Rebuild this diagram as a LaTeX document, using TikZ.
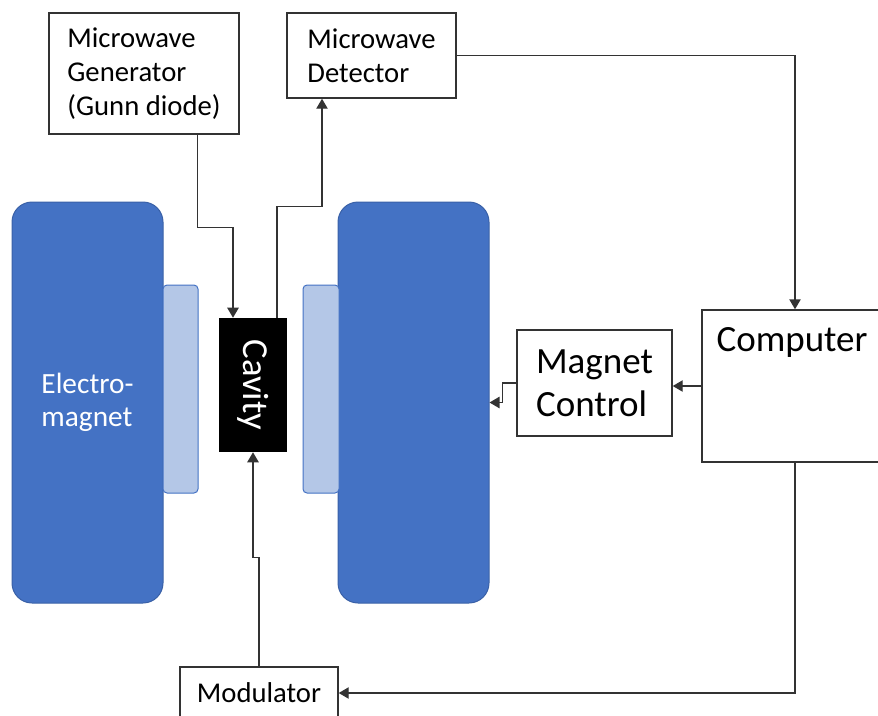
\documentclass[tikz,border=0pt]{standalone}
\usepackage{fontspec}
\setmainfont{Carlito}
\usepackage{graphicx}
\usetikzlibrary{arrows.meta}
\definecolor{magblue}{HTML}{4472C4}
\definecolor{poleblue}{HTML}{B4C7E7}
\tikzset{
  box/.style={draw=black!80, line width=1.1pt, fill=white, align=left,
    font=\fontsize{21.5pt}{25.5pt}\selectfont},
  bigbox/.style={box, font=\fontsize{27.75pt}{32.5pt}\selectfont},
  magnet/.style={fill=magblue, draw=magblue!85!black, line width=.75pt,
    rounded corners=15pt, minimum width=113.25pt, minimum height=300.75pt},
  pole/.style={fill=poleblue, draw=magblue, line width=.75pt,
    rounded corners=3pt, minimum width=26.25pt, minimum height=156pt},
  wire/.style={draw=black!80, line width=1.1pt,
    -{Triangle[width=8.5pt,length=7.5pt]}}
}
\begin{document}
\begin{tikzpicture}[x=0.75pt, y=-0.75pt]% ------ ESR set-up -----------------
    \clip (0,0) rectangle (878,715);
    % magnet, pole pieces and cavity
    \node (magL) [magnet, text=white, align=left,
      font=\fontsize{22pt}{25pt}\selectfont] at (87.5,402.5) {Electro-\\magnet};
    \node (magR) [magnet] at (413.5,402.5) {};
    \node (poleL) [pole] at (180.5,389) {};
    \node (poleR) [pole, minimum width=27pt] at (321,389) {};
    \node (cav) [fill=black, text=white, minimum width=51pt, minimum height=100.5pt,
      font=\fontsize{27.5pt}{30pt}\selectfont] at (253,385) {\rotatebox{-90}{Cavity}};
    % blocks
    \node (gen) [box, minimum width=142.5pt, minimum height=90.75pt] at (144,73.5)
      {Microwave\\Generator\\(Gunn diode)};
    \node (det) [box, minimum width=126.75pt, minimum height=63.75pt] at (371.5,55.5)
      {Microwave\\Detector};
    \node (comp) [bigbox, minimum width=139.5pt, minimum height=114pt,
      label={[anchor=north west, inner sep=0pt, xshift=11.25pt, yshift=-13.5pt,
        font=\fontsize{27.75pt}{32.5pt}\selectfont]north west:Computer}]
      at (795,386) {};
    \node (mctl) [bigbox, minimum width=116.25pt, minimum height=79.5pt] at (594.5,383)
      {Magnet\\Control};
    \node (mod) [box, minimum width=118.5pt, minimum height=39pt] at (259,693)
      {Modulator};
    % connections
    \draw [wire] ([xshift=-31.5pt]gen.south east) -- ++(0,93) -| ([xshift=-15pt]cav.north);
    \draw [wire] ([xshift=18pt]cav.north) -- ++(0,-111) -| ([xshift=-37.125pt]det.south);
    \draw [wire] (det.east) -| (comp.north);
    \draw [wire] (comp.west) -- (comp.west -| mctl.east);
    \draw [wire] (mctl.west) -- ++(-14,0) |- (magR.east);
    \draw [wire] (comp.south) |- (mod.east);
    \draw [wire] (mod.north) -- ++(0,-109) -| (cav.south);
\end{tikzpicture}
\end{document}
